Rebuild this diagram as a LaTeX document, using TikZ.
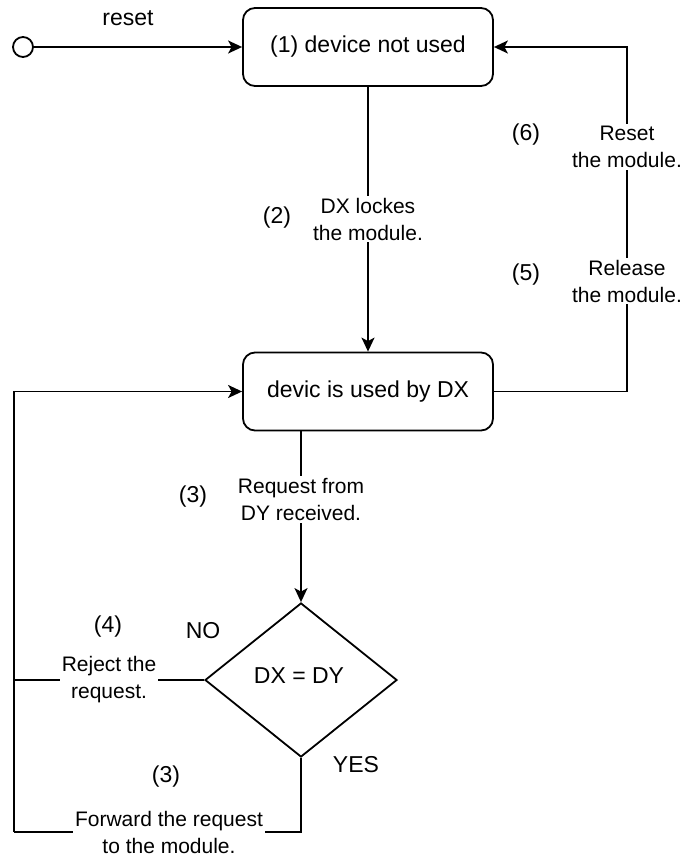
\documentclass[tikz,border=0pt]{standalone}
\usepackage{fontspec}
\setmainfont{Liberation Sans}
\usetikzlibrary{arrows.meta,shapes.geometric}

\begin{document}
\begin{tikzpicture}[x=1pt,y=-1pt,
  line width=1.8pt,
  state/.style={draw,rounded corners=12pt,minimum width=250pt,minimum height=78pt,
    inner sep=0pt,font=\fontsize{23}{28}\selectfont},
  decision/.style={draw,diamond,minimum width=192pt,minimum height=154pt,
    inner sep=0pt,font=\fontsize{23}{28}\selectfont},
  flow/.style={-{Stealth[length=14pt,width=13pt,inset=3.5pt]}},
  elabel/.style={fill=white,align=center,inner sep=2pt,font=\fontsize{21}{27}\selectfont},
  note/.style={inner sep=0pt,font=\fontsize{23}{28}\selectfont}]

  \useasboundingbox (0,0) rectangle (685,859);

  % states
  \node[draw,circle,minimum size=20pt,inner sep=0pt] (start) at (23,47) {};
  \node[state] (idle) at (368,47) {(1) device not used};
  \node[state] (used) at (368,391.5) {devic is used by DX};
  \node[decision] (check) at (301,680) {};
  \node[note] (checktext) at (299,676) {DX = DY};

  % corner points of the loops
  \coordinate (rtop) at (627,47);
  \coordinate (rbot) at (627,391.5);
  \coordinate (lmid) at (14,680);
  \coordinate (lbot) at (14,832);
  \coordinate (ltop) at (14,391.5);
  \coordinate (ybot) at (301,832);

  % transitions
  \draw[flow] (start) -- (idle);
  \node[note] (resetlbl) at (128,18) {reset};

  \draw[flow] (idle) -- node[elabel,pos=0.5] (lock) {DX lockes\\the module.} (used);
  \node[note] (n2) at (277,218) {(2)};

  \draw[flow] (used.east) -- (rbot)
     -- node[elabel,pos=0.32] (release) {Release\\the module.}
        node[elabel,pos=0.71] (rst) {Reset\\the module.} (rtop) -- (idle.east);
  \node[note] (n6) at (526,135) {(6)};
  \node[note] (n5) at (526,275) {(5)};

  \draw[flow] (used.south -| check.north) -- node[elabel,pos=0.40] (req) {Request from\\DY received.} (check.north);
  \node[note] (n3a) at (193,497) {(3)};

  \draw (check.west) -- node[elabel,pos=0.50] (reject) {Reject the\\request.} (lmid);
  \node[note] (n4) at (108,627) {(4)};
  \node[note] (no) at (203,631) {NO};

  \draw (check.south) -- (ybot) -- node[elabel,pos=0.46] (fwd) {Forward the request\\to the module.} (lbot);
  \node[note] (yes) at (356,765) {YES};
  \node[note] (n3b) at (166,777) {(3)};

  \draw[flow] (lbot) -- (ltop) -- (used.west);
\end{tikzpicture}
\end{document}
